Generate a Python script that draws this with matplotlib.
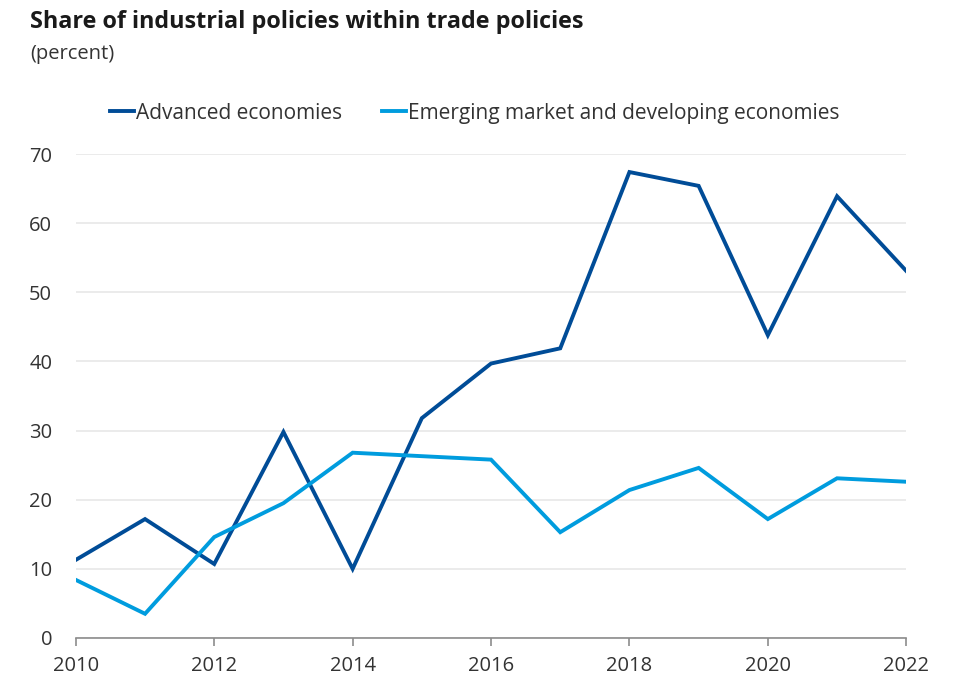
import matplotlib
matplotlib.use("Agg")
import matplotlib.pyplot as plt

plt.rcParams['font.family'] = ['Open Sans', 'DejaVu Sans']

# data
years = [2010, 2011, 2012, 2013, 2014, 2015, 2016, 2017, 2018, 2019, 2020, 2021, 2022]
advanced = [11.3, 17.2, 10.7, 29.8, 10.0, 31.8, 39.7, 41.9, 67.4, 65.4, 43.8, 63.9, 53.1]
emerging = [8.4, 3.5, 14.6, 19.5, 26.8, 26.3, 25.8, 15.3, 21.4, 24.6, 17.2, 23.1, 22.6]
labels = ['Advanced economies', 'Emerging market and developing economies']
xticks = [2010, 2012, 2014, 2016, 2018, 2020, 2022]
yticks = [0, 10, 20, 30, 40, 50, 60, 70]

dark = '#004C97'
light = '#009CDE'

fig = plt.figure(figsize=(9.6, 6.9), dpi=100)
ax = fig.add_axes([0.079, 0.0754, 0.865, 0.7013])

ax.plot(years, advanced, color=dark, lw=2.8, label=labels[0], solid_joinstyle='miter')
ax.plot(years, emerging, color=light, lw=2.8, label=labels[1], solid_joinstyle='miter')

ax.set_xlim(2010, 2022)
ax.set_ylim(0, 70)
ax.set_xticks(xticks)
ax.set_yticks(yticks)
ax.grid(axis='y', color='#e8e8e8', lw=1.2)
ax.set_axisbelow(True)
for s in ['top', 'right', 'left']:
    ax.spines[s].set_visible(False)
ax.spines['bottom'].set_color('#8c8c8c')
ax.spines['bottom'].set_linewidth(1.2)
ax.tick_params(axis='x', length=6, width=1.2, color='#8c8c8c', labelsize=14.5, labelcolor='#333333', pad=7)
ax.tick_params(axis='y', length=0, labelsize=14.5, labelcolor='#333333', pad=17)

fig.text(0.031, 0.968, 'Share of industrial policies within trade policies',
         fontsize=16.8, fontweight='bold', color='#1a1a1a', va='center')
fig.text(0.031, 0.922, '(percent)', fontsize=14.5, color='#333333', va='center')

leg = fig.legend(loc='center left', bbox_to_anchor=(0.095, 0.836), ncol=2, frameon=False,
                 fontsize=15, handlelength=1.15, handletextpad=0.1, columnspacing=1.9,
                 labelcolor='#333333')

fig.savefig('out.png', dpi=100, facecolor='white')
